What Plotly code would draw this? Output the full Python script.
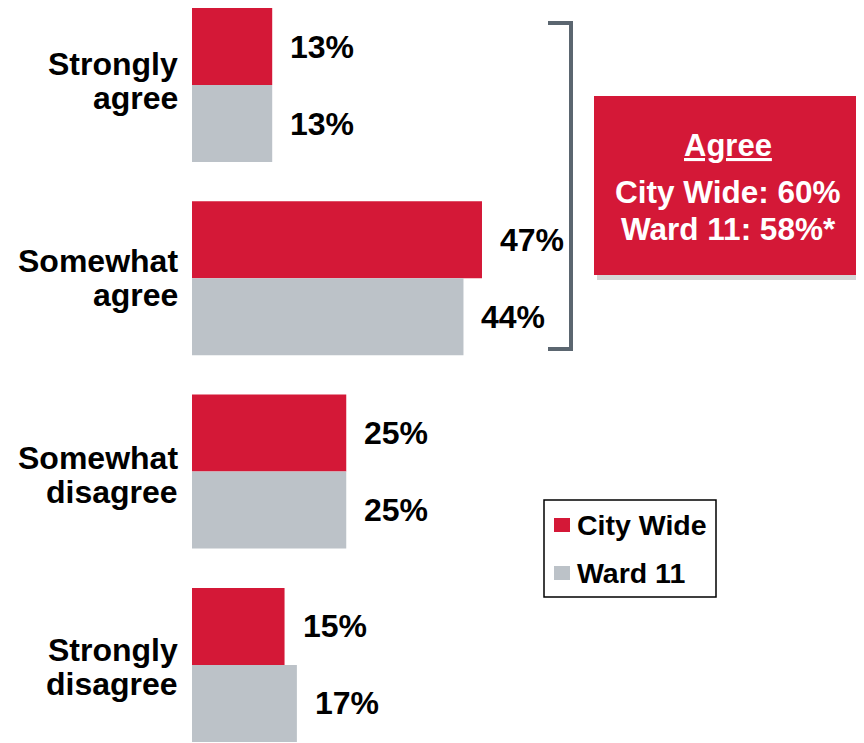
import plotly.graph_objects as go

# ---- data ----
categories = ["Strongly agree", "Somewhat agree", "Somewhat disagree", "Strongly disagree"]
label_lines = [["Strongly", "agree"], ["Somewhat", "agree"], ["Somewhat", "disagree"], ["Strongly", "disagree"]]
city_wide = [13, 47, 25, 15]
ward_11 = [13, 44, 25, 17]
series_names = ["City Wide", "Ward 11"]
summary_title = "Agree"
summary_lines = ["City Wide: 60%", "Ward 11: 58%*"]

# ---- style ----
RED = "#D41837"
GRAY = "#BCC2C8"
BRACKET = "#5B6670"
FONT = "Liberation Sans, Arial, sans-serif"
W, H = 864, 743
OX, OY = 8, 8          # page offset of the figure (body margin)
L = 192 - OX           # left margin so bars start at page x=192
PX_PER_PCT = 6.17
ROW = 193.3            # pixels per category
C0 = 85 - OY           # first category centre (figure px)
LABEL_NUDGE = [4, 0, -3, -2]   # small vertical tweaks of the category labels (px, up +)


def px(x):
    return (x - OX - L) / (W - L)


def py(y):
    return 1 - (y - OY) / H


fig = go.Figure()
for name, vals, col in [(series_names[0], city_wide, RED), (series_names[1], ward_11, GRAY)]:
    fig.add_trace(go.Bar(
        y=categories, x=vals, orientation="h", name=name,
        marker=dict(color=col, line=dict(width=0)),
        hoverinfo="skip", showlegend=False,
    ))

annotations = []
# data labels
for vals, shift in [(city_wide, 38.5), (ward_11, -38.5)]:
    for cat, v in zip(categories, vals):
        annotations.append(dict(
            x=v, y=cat, xref="x", yref="y", text=f"<b>{v}%</b>",
            showarrow=False, xanchor="left", yanchor="middle",
            xshift=16, yshift=shift,
            font=dict(family=FONT, size=32, color="#000000"),
        ))
# category labels
for cat, lines, nudge in zip(categories, label_lines, LABEL_NUDGE):
    for line, shift in zip(lines, [17, -17]):
        annotations.append(dict(
            x=0, y=cat, xref="paper", yref="y", text=f"<b>{line}</b>",
            showarrow=False, xanchor="right", yanchor="middle",
            xshift=-12, yshift=shift + nudge,
            font=dict(family=FONT, size=32, color="#000000"),
        ))
# summary box text
cx = px((594 + 862) / 2)
annotations.append(dict(
    x=cx, y=py(145), xref="paper", yref="paper", text=f"<b><u>{summary_title}</u></b>",
    showarrow=False, xanchor="center", yanchor="middle",
    font=dict(family=FONT, size=31, color="#FFFFFF"),
))
for line, yy in zip(summary_lines, [192, 229]):
    annotations.append(dict(
        x=cx, y=py(yy), xref="paper", yref="paper", text=f"<b>{line}</b>",
        showarrow=False, xanchor="center", yanchor="middle",
        font=dict(family=FONT, size=31.5, color="#FFFFFF"),
    ))

shapes = []
# shadow + box
shapes.append(dict(type="rect", xref="paper", yref="paper",
                   x0=px(597), x1=px(866), y0=py(100), y1=py(280),
                   fillcolor="rgba(120,120,120,0.3)", line=dict(width=0)))
shapes.append(dict(type="rect", xref="paper", yref="paper",
                   x0=px(594), x1=px(862), y0=py(96), y1=py(275),
                   fillcolor=RED, line=dict(width=0)))
# bracket
path = f"M {px(548)},{py(23)} L {px(571)},{py(23)} L {px(571)},{py(349)} L {px(548)},{py(349)}"
shapes.append(dict(type="path", xref="paper", yref="paper", path=path,
                   line=dict(color=BRACKET, width=4)))

# legend (drawn manually)
shapes.append(dict(type="rect", xref="paper", yref="paper",
                   x0=px(544), x1=px(716), y0=py(500), y1=py(597),
                   fillcolor="white", line=dict(color="#000000", width=1.5)))
for name, col, yc in [(series_names[0], RED, 525), (series_names[1], GRAY, 573)]:
    shapes.append(dict(type="rect", xref="paper", yref="paper",
                       x0=px(554), x1=px(570), y0=py(yc - 7), y1=py(yc + 7),
                       fillcolor=col, line=dict(width=0)))
    annotations.append(dict(
        x=px(575), y=py(yc), xref="paper", yref="paper", text=f"<b>{name}</b>",
        showarrow=False, xanchor="left", yanchor="middle",
        font=dict(family=FONT, size=28.5, color="#000000"),
    ))

fig.update_layout(
    width=W, height=H,
    margin=dict(l=L, r=0, t=0, b=0),
    paper_bgcolor="white", plot_bgcolor="white",
    barmode="group", bargap=0.2033, bargroupgap=0,
    xaxis=dict(range=[0, (W - L) / PX_PER_PCT], visible=False, fixedrange=True),
    yaxis=dict(categoryorder="array", categoryarray=categories,
               range=[(H - C0) / ROW, -C0 / ROW], showticklabels=False, showgrid=False,
               zeroline=False, showline=False, ticks=""),
    showlegend=False,
    annotations=annotations,
    shapes=shapes,
)

fig.write_html("out.html")
